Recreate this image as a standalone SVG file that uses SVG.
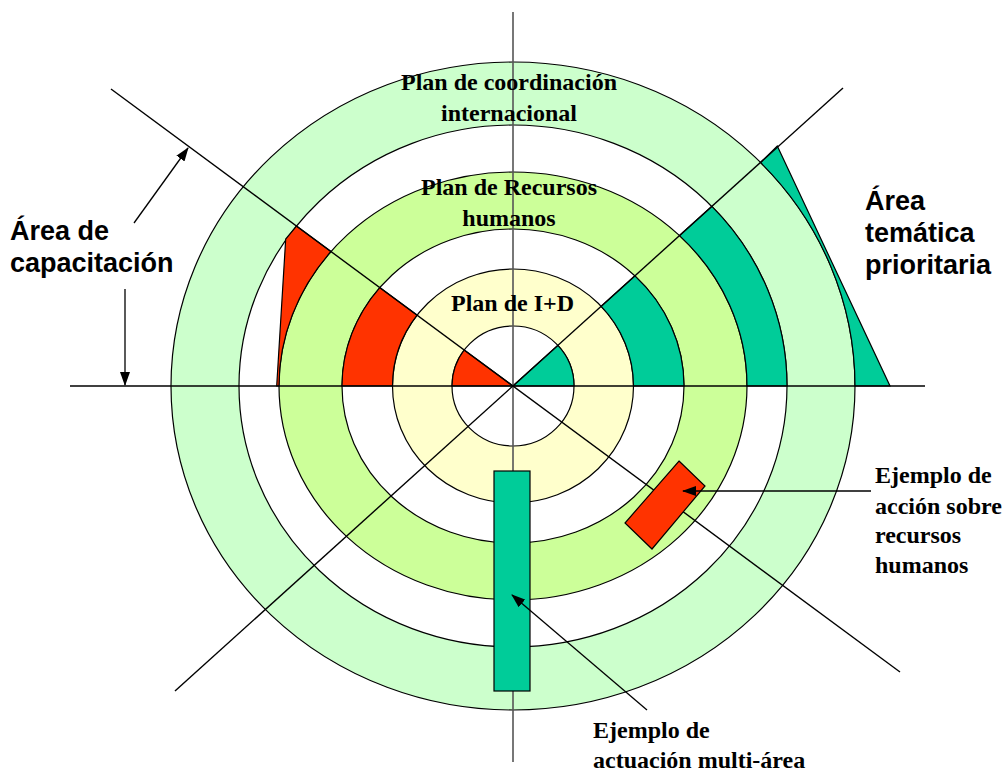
<svg xmlns="http://www.w3.org/2000/svg" width="1005" height="773" viewBox="0 0 1005 773">
<defs>
<marker id="ah" markerWidth="14" markerHeight="10" refX="13" refY="5" orient="auto" markerUnits="userSpaceOnUse">
<path d="M0,0 L14,5 L0,10 Z" fill="#000"/>
</marker>
<style>
.ring{stroke:#000;stroke-width:1.2}
.red{fill:#FF3300;stroke:#000;stroke-width:1.2}
.teal{fill:#00CC99;stroke:#000;stroke-width:1.2}
.axis{stroke:#000;stroke-width:1.4;fill:none}
.arr{stroke:#000;stroke-width:1.3;fill:none;marker-end:url(#ah)}
.tt{font-family:"Liberation Serif","Times New Roman",serif;font-weight:bold;font-size:24px;fill:#000}
.ts{font-family:"Liberation Sans",Arial,sans-serif;font-weight:bold;font-size:27px;fill:#000}
</style>
</defs>
<rect width="1005" height="773" fill="#fff"/>
<g id="rings">
<ellipse class="ring" cx="513" cy="386" rx="342" ry="324" fill="#CCFFCC"/>
<ellipse class="ring" cx="513" cy="386" rx="274" ry="261" fill="#FFFFFF"/>
<ellipse class="ring" cx="513" cy="386" rx="234" ry="214" fill="#CCFF99"/>
<ellipse class="ring" cx="513" cy="386" rx="171" ry="157" fill="#FFFFFF"/>
<ellipse class="ring" cx="513" cy="386" rx="120.5" ry="117" fill="#FFFFCC"/>
<ellipse class="ring" cx="513" cy="386" rx="61" ry="60" fill="#FFFFFF"/>
</g>
<g id="capacitacion-wedges">
<path class="red" d="M513,386 L452,386 A61 60 0 0 1 464.2,350 Z"/>
<path class="red" d="M392.5,386 L342,386 A171 157 0 0 1 379.8,287.6 L417.1,315.1 A120.5 117 0 0 0 392.5,386 Z"/>
<path class="red" d="M276.7,386 L285.7,239 L296.5,226 L331,251.5 A234 214 0 0 0 279,386 Z"/>
</g>
<g id="tematica-wedges">
<path class="teal" d="M513,386 L574,386 A61 60 0 0 0 557.9,345.4 Z"/>
<path class="teal" d="M633.5,386 L684,386 A171 157 0 0 0 634.9,275.9 L601.2,306.3 A120.5 117 0 0 1 633.5,386 Z"/>
<path class="teal" d="M747,386 L787,386 A274 261 0 0 0 711.9,206.4 L679.5,235.6 A234 214 0 0 1 747,386 Z"/>
<path class="teal" d="M855,386 L890,386 L777.3,146 L760.5,162.5 A342 324 0 0 1 855,386 Z"/>
</g>
<g id="connectors">
<line class="axis" x1="70" y1="386" x2="925" y2="386"/>
<line x1="513" y1="12" x2="513" y2="762" stroke="#555" stroke-width="1.6"/>
<line class="axis" x1="111" y1="89" x2="900" y2="672" stroke-width="1.2"/>
<line class="axis" x1="843" y1="88" x2="175" y2="691" stroke-width="1.2"/>
<line class="arr" x1="134" y1="223" x2="188" y2="148"/>
<line class="arr" x1="125" y1="289" x2="125" y2="385"/>
</g>
<g id="accion-rrhh">
<polygon class="red" points="679,461 705,486 652,549 625,523"/>
</g>
<g id="actuacion-multiarea">
<rect class="teal" x="494" y="471" width="36" height="220"/>
</g>
<g id="pointer-arrows">
<line class="arr" x1="871" y1="491" x2="683" y2="491"/>
<line class="arr" x1="647" y1="710" x2="512" y2="595"/>
</g>
<g id="labels">
<text class="tt" text-anchor="middle" x="509" y="90">Plan de coordinación</text>
<text class="tt" text-anchor="middle" x="509" y="121">internacional</text>
<text class="tt" text-anchor="middle" x="509" y="195">Plan de Recursos</text>
<text class="tt" text-anchor="middle" x="509" y="226">humanos</text>
<text class="tt" text-anchor="middle" x="512.5" y="311">Plan de I+D</text>
<text class="ts" x="10" y="240">Área de</text>
<text class="ts" x="10" y="272">capacitación</text>
<text class="ts" x="865" y="210">Área</text>
<text class="ts" x="865" y="242">temática</text>
<text class="ts" x="865" y="274">prioritaria</text>
<text class="tt" x="875" y="483">Ejemplo de</text>
<text class="tt" x="875" y="514">acción sobre</text>
<text class="tt" x="875" y="543">recursos</text>
<text class="tt" x="875" y="573">humanos</text>
<text class="tt" x="593" y="738">Ejemplo de</text>
<text class="tt" x="593" y="768">actuación multi-área</text>
</g>
</svg>
